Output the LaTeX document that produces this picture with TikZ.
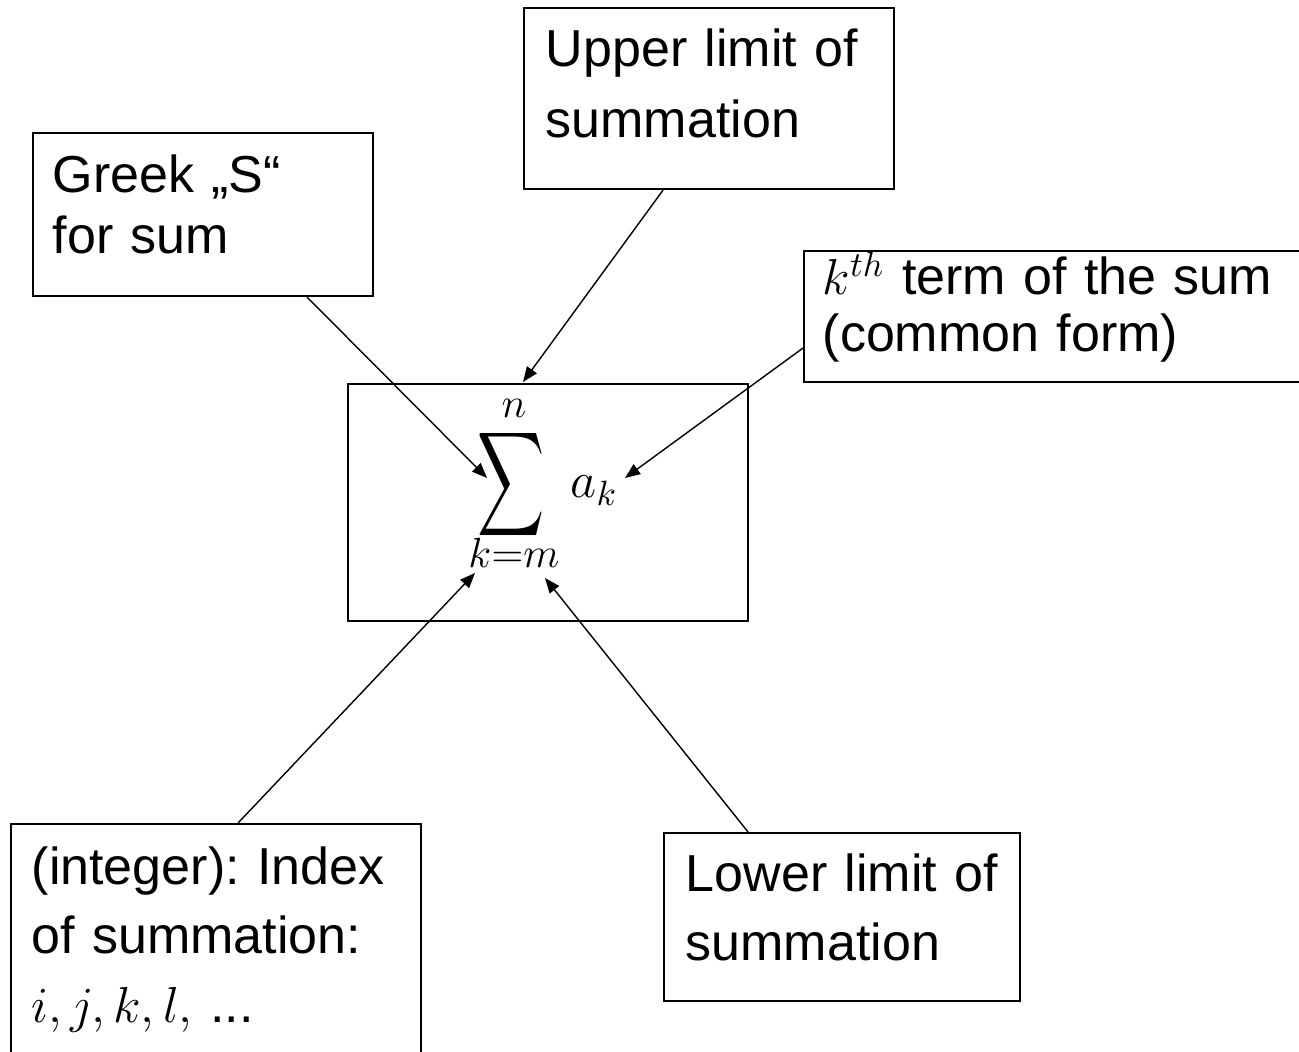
\documentclass[tikz,border=0pt]{standalone}
\usepackage{amsmath}
\usepackage{exscale}
\usepackage{fontspec}
\setmainfont{Liberation Sans}
\usepackage{graphicx}
\usetikzlibrary{arrows.meta}
\frenchspacing

\tikzset{
  frame/.style={draw, line width=0.6pt, inner sep=0pt, anchor=north west},
  txt/.style={inner sep=0pt, anchor=base west, text width=5cm, align=left,
    font=\fontsize{14.8}{#1}\selectfont},
  mth/.style={inner sep=0pt, font=\fontsize{14}{16}\selectfont},
  lim/.style={inner sep=0pt, anchor=base, font=\fontsize{11.5}{13}\selectfont},
  pointer/.style={line width=0.4pt, -{Triangle[length=4.3pt,width=3.4pt]}}
}

\begin{document}
\begin{tikzpicture}
    \useasboundingbox (0,0) rectangle (12.99,-10.52);

    % Boxes
    \node[frame, minimum width=3.70cm, minimum height=1.81cm] (upper) at (5.23,-0.07) {};
    \node[frame, minimum width=3.40cm, minimum height=1.63cm] (greek) at (0.32,-1.32) {};
    \node[frame, minimum width=5.10cm, minimum height=1.31cm] (kterm) at (8.03,-2.50) {};
    \node[frame, minimum width=4.00cm, minimum height=2.37cm] (formula) at (3.47,-3.83) {};
    \node[frame, minimum width=4.10cm, minimum height=2.40cm] (index) at (0.10,-8.23) {};
    \node[frame, minimum width=3.56cm, minimum height=1.68cm] (lower) at (6.63,-8.32) {};

    % Texts
    \node[txt=20.2pt] (uppertext) at (5.45,-0.67) {Upper limit of\\summation};
    \node[txt=17.1pt] (greektext) at (0.52,-1.93) {Greek „S“\\for sum};
    \node[txt=16.2pt] (ktermtext) at (8.22,-2.95) {$k^{th}$ term of the sum\\(common form)};
    \node[txt=19.6pt] (indextext) at (0.31,-8.85) {(integer): Index\\of summation:\\$i, j, k, l,$ ...};
    \node[txt=19.4pt] (lowertext) at (6.85,-8.92) {Lower limit of\\summation};

    % Sum
    \node[mth, text height=19pt, text depth=9pt] (sig) at (5.115,-4.85) {\scalebox{0.92}[1.44]{$\displaystyle\sum$}};
    \node[lim] (up) at (5.14,-4.18) {$n$};
    \node[lim] (low) at (5.14,-5.68) {$k{=}m$};
    \node[mth, anchor=base west] (ak) at (5.70,-4.98) {$a_k$};

    % Arrow tips
    \coordinate (sigtip) at (4.87,-4.78);
    \coordinate (uptip) at (5.23,-3.82);
    \coordinate (aktip) at (6.25,-4.78);
    \coordinate (idxtip) at (4.75,-5.73);
    \coordinate (lowtip) at (5.45,-5.78);

    % Arrows
    \draw[pointer] ([xshift=1.04cm]greek.south) -- (sigtip);
    \draw[pointer] ([xshift=-0.46cm]upper.south) -- (uptip);
    \draw[pointer] ([yshift=-0.315cm]kterm.west) -- (aktip);
    \draw[pointer] ([xshift=0.22cm]index.north) -- (idxtip);
    \draw[pointer] ([xshift=-0.94cm]lower.north) -- (lowtip);
\end{tikzpicture}
\end{document}
